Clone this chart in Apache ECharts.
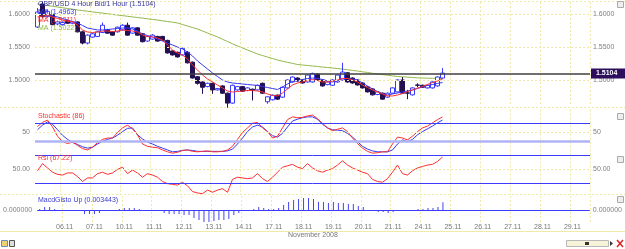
<!DOCTYPE html>
<html>
<head>
<meta charset="utf-8">
<script src="https://cdn.jsdelivr.net/npm/echarts@6/dist/echarts.min.js"></script>
<style>html,body{margin:0;padding:0;background:#fff}#chart{width:625px;height:249px}</style>
</head>
<body>
<div id="chart"></div>
<script>
// 4 hour bars, weekdays only
const days = ['05.11','06.11','07.11','10.11','11.11','12.11','13.11','14.11','17.11','18.11','19.11','20.11','21.11','24.11','25.11','26.11','27.11','28.11','29.11']
const hours = ['00:00','04:00','08:00','12:00','16:00','20:00']

const opens = [1.5803,1.6150,1.5960,1.5990,1.5850,1.5840,1.5900,1.5860,1.5880,1.5730,1.5560,1.5650,1.5660,1.5720,1.5760,1.5730,1.5730,1.5760,1.5830,1.5710,
  1.5790,1.5700,1.5590,1.5620,1.5660,1.5660,1.5600,1.5440,1.5420,1.5380,1.5420,1.5270,1.5050,1.4970,1.4900,1.4950,1.4850,1.4910,1.4800,1.4650,
  1.4850,1.4900,1.4840,1.4860,1.4850,1.4950,1.4670,1.4700,1.4770,1.4740,1.4880,1.4970,1.5030,1.5000,1.4970,1.4970,1.5090,1.5000,1.4930,1.4920,
  1.4970,1.5000,1.5110,1.5030,1.5000,1.4955,1.4895,1.4865,1.4780,1.4800,1.4740,1.4800,1.4820,1.5000,1.4805,1.4775,1.4925,1.4920,1.4880,1.4880,
  1.4910,1.5030]
const closes = [1.6030,1.5960,1.6040,1.5840,1.5880,1.5870,1.5860,1.5880,1.5730,1.5560,1.5680,1.5700,1.5730,1.5830,1.5710,1.5680,1.5800,1.5830,1.5680,1.5790,
  1.5680,1.5580,1.5660,1.5680,1.5590,1.5600,1.5410,1.5380,1.5350,1.5480,1.5260,1.5030,1.4950,1.4890,1.4950,1.4850,1.4870,1.4800,1.4650,1.4920,
  1.4900,1.4830,1.4880,1.4840,1.4920,1.4800,1.4745,1.4770,1.4710,1.4890,1.5000,1.5045,1.4985,1.4955,1.5075,1.5100,1.5000,1.4910,1.4970,1.5000,
  1.5075,1.5120,1.4970,1.4955,1.4925,1.4880,1.4820,1.4775,1.4820,1.4710,1.4800,1.4880,1.5000,1.4800,1.4800,1.4880,1.4920,1.4890,1.4920,1.4970,
  1.5045,1.5104]
const lows = [1.5790,1.5940,1.5945,1.5830,1.5830,1.5825,1.5850,1.5845,1.5720,1.5540,1.5540,1.5640,1.5650,1.5710,1.5700,1.5670,1.5720,1.5750,1.5670,1.5700,
  1.5670,1.5570,1.5580,1.5610,1.5580,1.5590,1.5400,1.5370,1.5340,1.5370,1.5250,1.5020,1.4930,1.4790,1.4890,1.4790,1.4840,1.4790,1.4580,1.4640,
  1.4840,1.4820,1.4830,1.4690,1.4840,1.4790,1.4640,1.4690,1.4700,1.4730,1.4870,1.4960,1.4975,1.4945,1.4960,1.4960,1.4990,1.4900,1.4920,1.4910,
  1.4960,1.4990,1.4960,1.4945,1.4915,1.4870,1.4810,1.4765,1.4770,1.4700,1.4730,1.4790,1.4810,1.4790,1.4710,1.4765,1.4890,1.4880,1.4870,1.4870,
  1.4900,1.5020]
const highs = [1.6090,1.6190,1.6070,1.6000,1.5900,1.5890,1.5915,1.5895,1.5890,1.5745,1.5690,1.5715,1.5740,1.5870,1.5775,1.5740,1.5810,1.5845,1.5870,1.5800,
  1.5800,1.5710,1.5670,1.5695,1.5670,1.5670,1.5610,1.5450,1.5430,1.5490,1.5440,1.5280,1.5060,1.4980,1.4960,1.4960,1.4880,1.4920,1.4810,1.4930,
  1.4910,1.4910,1.4890,1.4870,1.4930,1.4960,1.4755,1.4780,1.4780,1.4900,1.5010,1.5055,1.5040,1.5010,1.5085,1.5110,1.5100,1.5010,1.4980,1.5010,
  1.5085,1.5260,1.5120,1.5040,1.5010,1.4965,1.4905,1.4875,1.4830,1.4810,1.4810,1.4890,1.5010,1.5045,1.4850,1.4890,1.4950,1.4930,1.4930,1.4980,
  1.5055,1.5180]

const maBlue = [1.6015,1.6000,1.5985,1.5970,1.5955,1.5932,1.5909,1.5886,1.5864,1.5826,1.5788,1.5773,1.5758,1.5758,1.5765,1.5773,1.5780,1.5788,1.5788,1.5773,
  1.5742,1.5697,1.5674,1.5652,1.5621,1.5591,1.5561,1.5530,1.5500,1.5470,1.5424,1.5364,1.5288,1.5227,1.5167,1.5106,1.5053,1.5000,1.4970,1.4955,
  1.4947,1.4939,1.4932,1.4924,1.4917,1.4902,1.4886,1.4871,1.4856,1.4894,1.4939,1.4977,1.4992,1.5008,1.5023,1.5030,1.5023,1.5008,1.4985,1.4970,
  1.4985,1.5023,1.5023,1.5015,1.5000,1.4955,1.4909,1.4864,1.4826,1.4795,1.4773,1.4788,1.4803,1.4818,1.4833,1.4848,1.4871,1.4894,1.4917,1.4932,
  1.4947,1.4963]
const maRed = [1.5955,1.5970,1.5977,1.5955,1.5932,1.5909,1.5894,1.5879,1.5833,1.5758,1.5727,1.5720,1.5727,1.5742,1.5742,1.5735,1.5742,1.5758,1.5750,1.5742,
  1.5727,1.5682,1.5659,1.5652,1.5636,1.5606,1.5530,1.5455,1.5409,1.5379,1.5318,1.5227,1.5152,1.5076,1.5015,1.4970,1.4924,1.4879,1.4833,1.4818,
  1.4826,1.4833,1.4841,1.4841,1.4833,1.4818,1.4788,1.4765,1.4758,1.4803,1.4864,1.4924,1.4955,1.4970,1.4992,1.5008,1.4992,1.4970,1.4970,1.4985,
  1.5000,1.5023,1.5023,1.5000,1.4970,1.4924,1.4886,1.4848,1.4818,1.4788,1.4758,1.4758,1.4773,1.4795,1.4826,1.4848,1.4879,1.4902,1.4932,1.4962,
  1.4985,1.5011]
const maGreen = [1.6152,1.6139,1.6129,1.6117,1.6106,1.6095,1.6083,1.6073,1.6061,1.6052,1.6042,1.6032,1.6023,1.6014,1.6003,1.5994,1.5985,1.5976,1.5965,1.5956,
  1.5947,1.5938,1.5927,1.5918,1.5909,1.5897,1.5886,1.5876,1.5864,1.5841,1.5818,1.5795,1.5773,1.5742,1.5712,1.5682,1.5652,1.5617,1.5583,1.5548,
  1.5515,1.5485,1.5455,1.5424,1.5394,1.5371,1.5348,1.5326,1.5303,1.5285,1.5268,1.5252,1.5235,1.5227,1.5220,1.5212,1.5205,1.5197,1.5189,1.5182,
  1.5174,1.5165,1.5156,1.5145,1.5136,1.5124,1.5114,1.5102,1.5091,1.5082,1.5073,1.5062,1.5053,1.5048,1.5044,1.5038,1.5033,1.5030,1.5027,1.5026,
  1.5024,1.5023]

const stochK = [63,72,77,62,42,30,26,29,22,15,12,18,28,35,38,38,50,60,66,58,
  45,25,20,18,17,12,8,5,7,11,12,9,8,9,10,8,8,9,12,20,
  35,50,60,70,72,60,52,38,42,60,78,84,82,83,86,88,80,70,60,54,
  57,60,52,38,26,16,9,5,6,8,8,25,40,38,34,42,52,60,64,71,
  78,84]
const stochD = [56,66,73,68,56,44,35,29,24,19,16,18,25,31,35,38,44,52,59,60,
  45,36,29,25,20,16,12,8,9,11,12,11,9,9,9,9,9,9,10,14,
  25,38,52,62,66,62,52,43,40,48,62,75,79,82,84,84,79,68,60,56,
  55,54,48,40,30,20,14,10,8,8,8,12,25,34,30,35,45,52,58,64,
  71,77]
const rsi = [48,58,52,46,43,42,45,45,40,33,38,38,44,46,43,45,50,53,44,49,
  45,39,44,42,39,33,30,29,28,32,27,19,17,16,21,18,21,23,18,36,
  39,38,37,38,44,37,33,39,46,53,55,57,53,51,58,52,48,46,49,51,
  56,62,56,52,49,46,44,36,33,32,37,46,56,44,42,48,52,54,56,57,
  61,67.22]
const macdHist = [0.00045,0.00134,0.00134,0.00045,0,0,0,0,-0.00045,-0.00179,-0.00179,-0.00179,-0.00134,-0.00045,-0.00045,-0.00045,0.00045,0.00089,0.00089,0.00089,
  0.00045,0,0,0,-0.00045,-0.00134,-0.00179,-0.00179,-0.00179,-0.00224,-0.00224,-0.00358,-0.00447,-0.00536,-0.00536,-0.00492,-0.00447,-0.00447,-0.00402,-0.00224,
  -0.00134,0,0,0.00045,0.00134,0.00089,0.00045,0.00045,0.00089,0.00224,0.00358,0.00447,0.00492,0.00536,0.00536,0.00492,0.00358,0.00358,0.00313,0.00358,
  0.00313,0.00313,0.00268,0.00268,0.00179,0.00134,0,-0.00045,-0.00089,-0.00089,-0.00134,-0.00089,0,0,-0.00045,0,0.00045,0.00045,0.00089,0.00089,
  0.00134,0.003443]

const priceLevels = [1.5, 1.55, 1.6]
const lastPrice = 1.5104

const categories = []
days.forEach((d, di) => {
  hours.forEach((h, hi) => {
    if (di === 0 && hi < 1) return
    if (di === days.length - 1 && hi > 3) return
    categories.push(d + ' ' + h)
  })
})
const isDayStart = (idx, val) => val.slice(6) === '00:00'

const FONT = 'Liberation Sans'
const FS = 7
const gridCol = '#efeaa8'
const lineBlue = '#3838f0'
const levelBlue = '#3c3cff'
const lineRed = '#ff3030'

function xAx(gi, showLabel) {
  return {
    type: 'category', gridIndex: gi, data: categories, boundaryGap: true,
    axisLine: {show: false}, axisTick: {show: false},
    axisLabel: {show: showLabel, interval: isDayStart, formatter: v => v.slice(0, 5),
      color: '#777', fontSize: FS, fontFamily: FONT, margin: 0},
    splitLine: {show: true, interval: isDayStart, lineStyle: {color: gridCol, type: [2, 2], width: 1}}
  }
}
function yAx(gi, pos, min, max, vals, fmt) {
  return {
    type: 'value', gridIndex: gi, position: pos, min: min, max: max, scale: true,
    axisLine: {show: false}, axisTick: {show: false}, splitLine: {show: false},
    axisLabel: {customValues: vals, formatter: fmt, color: '#808080', fontSize: FS, fontFamily: FONT,
      margin: pos === 'left' ? 5 : 3}
  }
}
function hLines(items) {
  return {symbol: ['none', 'none'], silent: true, label: {show: false}, animation: false,
    data: items.map(it => ({yAxis: it[0], lineStyle: it[1]}))}
}
const yellowDash = {color: gridCol, type: [2, 2], width: 1}
const levelLine = {color: levelBlue, width: 1, type: 'solid'}
const txt = (x, y, s, c) => ({type: 'text', left: x, top: y, z: 10, style: {text: s, fill: c, font: FS + 'px ' + FONT}})

const chart = echarts.init(document.getElementById('chart'))
chart.setOption({
  animation: false,
  backgroundColor: '#fff',
  grid: [
    {left: 35, right: 35, top: 2, height: 104},
    {left: 35, right: 35, top: 109.5, height: 46},
    {left: 35, right: 35, top: 153.6, height: 40.8},
    {left: 35, right: 35, top: 196, height: 28}
  ],
  xAxis: [xAx(0, false), xAx(1, false), xAx(2, false), xAx(3, true)],
  yAxis: [
    yAx(0, 'left', 1.4606, 1.6182, priceLevels, v => v.toFixed(4)),
    yAx(0, 'right', 1.4606, 1.6182, priceLevels, v => v.toFixed(4)),
    yAx(1, 'left', 0, 100, [50], v => String(v)),
    yAx(1, 'right', 0, 100, [50], v => String(v)),
    yAx(2, 'left', 15, 72, [50], v => v.toFixed(2)),
    yAx(2, 'right', 15, 72, [50], v => v.toFixed(2)),
    yAx(3, 'left', -0.0063, 0.0063, [0], v => v.toFixed(6)),
    yAx(3, 'right', -0.0063, 0.0063, [0], v => v.toFixed(6))
  ],
  series: [
    {
      type: 'line', xAxisIndex: 0, yAxisIndex: 0, data: maGreen, symbol: 'none', z: 1,
      lineStyle: {color: '#92b84c', width: 1},
      markLine: hLines(priceLevels.map(p => [p, yellowDash]))
    },
    {
      type: 'candlestick', xAxisIndex: 0, yAxisIndex: 0, barWidth: 4, z: 2,
      data: opens.map((o, i) => [o, closes[i], lows[i], highs[i]]),
      itemStyle: {color: '#ffffff', color0: '#241050', borderColor: '#3a3aff', borderColor0: '#241050', borderWidth: 1},
      markLine: {
        symbol: ['none', 'none'], silent: true, animation: false,
        data: [{yAxis: lastPrice}],
        lineStyle: {color: '#404040', width: 1.5, type: 'solid'},
        label: {show: true, position: 'end', distance: 1, formatter: lastPrice.toFixed(4),
          color: '#fff', backgroundColor: '#2c0e5c', padding: [1, 8, 1, 5], fontSize: FS, fontWeight: 'bold', fontFamily: FONT, lineHeight: 8}
      }
    },
    {type: 'line', xAxisIndex: 0, yAxisIndex: 0, data: maBlue, symbol: 'none', z: 3, lineStyle: {color: lineBlue, width: 1}},
    {type: 'line', xAxisIndex: 0, yAxisIndex: 0, data: maRed, symbol: 'none', z: 3, lineStyle: {color: lineRed, width: 1}},
    {
      type: 'line', xAxisIndex: 1, yAxisIndex: 2, data: stochD, symbol: 'none', z: 3,
      lineStyle: {color: lineBlue, width: 1},
      markLine: hLines([[50, yellowDash], [70, levelLine], [30, {color: '#b0b3f4', width: 2.5, type: 'solid'}]])
    },
    {type: 'line', xAxisIndex: 1, yAxisIndex: 2, data: stochK, symbol: 'none', z: 4, lineStyle: {color: lineRed, width: 1}},
    {
      type: 'line', xAxisIndex: 2, yAxisIndex: 4, data: rsi, symbol: 'none', z: 3,
      lineStyle: {color: lineRed, width: 1},
      markLine: hLines([[50, yellowDash], [70, levelLine], [30, levelLine]])
    },
    {
      type: 'bar', xAxisIndex: 3, yAxisIndex: 6, data: macdHist, barWidth: 1, z: 3,
      itemStyle: {color: '#4444ee'},
      markLine: hLines([[0, levelLine]])
    }
  ],
  graphic: [
    {type: 'line', shape: {x1: 0, y1: 1.5, x2: 625, y2: 1.5}, style: {stroke: gridCol, lineDash: [2, 2]}, silent: true},
    {type: 'line', shape: {x1: 0, y1: 107.5, x2: 625, y2: 107.5}, style: {stroke: gridCol, lineDash: [2, 2]}, silent: true},
    {type: 'line', shape: {x1: 0, y1: 194.5, x2: 625, y2: 194.5}, style: {stroke: gridCol, lineDash: [2, 2]}, silent: true},
    {type: 'line', shape: {x1: 0, y1: 231.5, x2: 625, y2: 231.5}, style: {stroke: gridCol}, silent: true},
    txt(38, 1, 'GBP/USD 4 Hour Bid/1 Hour (1.5104)', '#34349a'),
    txt(38, 9, 'MA (1.4963)', lineBlue),
    txt(38, 17, 'MA (1.5011)', lineRed),
    txt(38, 25, 'MA (1.5022)', '#92b84c'),
    txt(38, 113, 'Stochastic (86)', lineRed),
    txt(38, 154.5, 'Rsi (67.22)', lineRed),
    txt(38, 197, 'MacdGisto Up (0.003443)', '#3a3ad0'),
    txt(288, 232, 'November 2008', '#777'),
    {type: 'rect', shape: {x: 617.5, y: 1.5, width: 6, height: 6}, style: {fill: '#eee', stroke: '#aaa'}},
    {type: 'rect', shape: {x: 617.5, y: 113.5, width: 6, height: 6}, style: {fill: '#eee', stroke: '#aaa'}},
    {type: 'rect', shape: {x: 617.5, y: 156.5, width: 6, height: 6}, style: {fill: '#eee', stroke: '#aaa'}},
    {type: 'rect', shape: {x: 617.5, y: 196.5, width: 6, height: 6}, style: {fill: '#eee', stroke: '#aaa'}},
    {type: 'rect', shape: {x: 566.5, y: 240.5, width: 42, height: 6}, style: {fill: '#f6f3d8', stroke: '#b8b8b8'}},
    {type: 'rect', shape: {x: 585, y: 242, width: 4, height: 3}, style: {fill: '#333'}},
    {type: 'polygon', shape: {points: [[610, 241], [613, 243.5], [610, 246]]}, style: {fill: '#333'}},
    {type: 'line', shape: {x1: 617, y1: 240, x2: 623, y2: 247}, style: {stroke: '#e02020', lineWidth: 1.5}},
    {type: 'line', shape: {x1: 623, y1: 240, x2: 617, y2: 247}, style: {stroke: '#e02020', lineWidth: 1.5}},
    {type: 'rect', shape: {x: 1.5, y: 240.5, width: 6, height: 6}, style: {fill: '#f0d070', stroke: '#6a8ac0'}},
    {type: 'rect', shape: {x: 9.5, y: 240.5, width: 5, height: 6}, style: {fill: '#ddd', stroke: '#555'}}
  ]
})
</script>
</body>
</html>
